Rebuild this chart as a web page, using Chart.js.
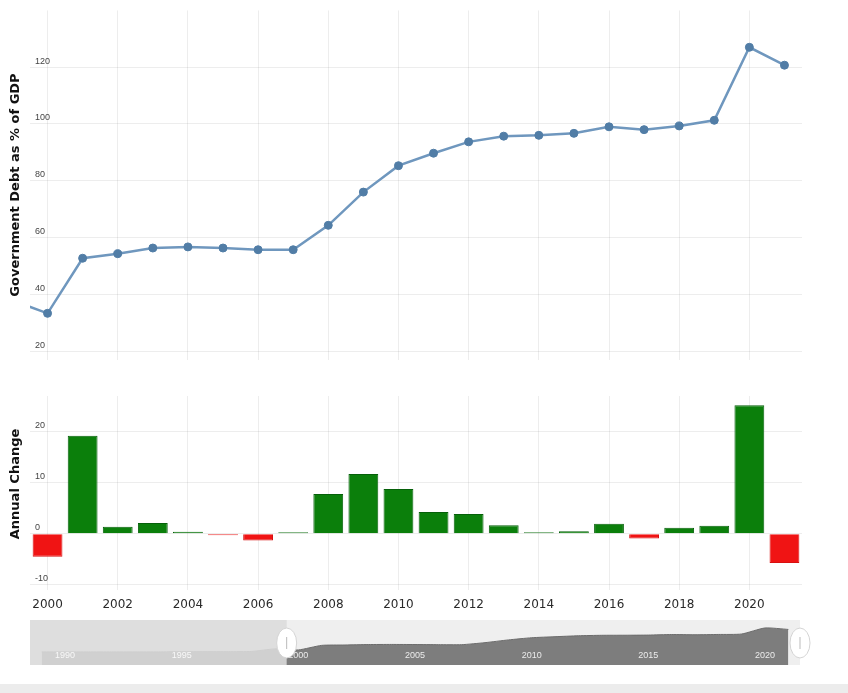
<!DOCTYPE html>
<html><head><meta charset="utf-8">
<script src="https://cdn.jsdelivr.net/npm/chart.js@4.4.1/dist/chart.umd.min.js"></script>
<style>
html,body{margin:0;padding:0;background:#fff;width:848px;height:693px;overflow:hidden;position:relative}
.box{position:absolute}
#foot{position:absolute;left:0;top:684px;width:848px;height:9px;background:#ececec}
</style></head><body>
<div class="box" style="left:0;top:0;width:848px;height:370px"><canvas id="c1"></canvas></div>
<div class="box" style="left:0;top:380px;width:848px;height:240px"><canvas id="c2"></canvas></div>
<div class="box" style="left:0;top:615px;width:848px;height:55px"><canvas id="c3"></canvas></div>
<div id="foot"></div>
<script>
// ---- data ----
const years = [1999,2000,2001,2002,2003,2004,2005,2006,2007,2008,2009,2010,2011,2012,2013,2014,2015,2016,2017,2018,2019,2020,2021];
const debtPct = [37.8,33.3,52.7,54.3,56.3,56.7,56.3,55.7,55.7,64.3,76.0,85.3,89.7,93.7,95.7,96.0,96.7,99.0,98.0,99.3,101.3,127.0,120.7];
const changeYears = [2000,2001,2002,2003,2004,2005,2006,2007,2008,2009,2010,2011,2012,2013,2014,2015,2016,2017,2018,2019,2020,2021];
const annualChange = [-4.5,19.2,1.4,2.1,0.4,-0.3,-1.3,0.3,7.8,11.7,8.8,4.3,3.9,1.7,0.3,0.5,2.0,-0.9,1.2,1.6,25.2,-5.7];
const navYears = [1989,1990,1991,1992,1993,1994,1995,1996,1997,1998];
const navPre = [25,25,25,25,25,25,26,26,26,27];
const xTickYears = [2000,2002,2004,2006,2008,2010,2012,2014,2016,2018,2020];
const debtTicks = [20,40,60,80,100,120];
const changeTicks = [-10,0,10,20];
const navLabels = [1990,1995,2000,2005,2010,2015,2020];

const gridCol = 'rgba(0,0,0,0.07)';
const tickFont = {size:9, family:'Liberation Sans'};
const titleFont = {size:13, weight:'bold', family:'DejaVu Sans'};

new Chart(document.getElementById('c1'), {
  type:'line',
  data:{datasets:[{
    data: years.map((y,i)=>({x:y, y:debtPct[i]})),
    borderColor:'#6f97be', borderWidth:2.5, tension:0,
    pointRadius:4, pointBackgroundColor:'#517da6', pointBorderColor:'#517da6', pointBorderWidth:1
  }]},
  options:{
    animation:false, responsive:true, maintainAspectRatio:false, devicePixelRatio:1,
    layout:{padding:{top:1, right:46, left:0, bottom:0}},
    plugins:{legend:{display:false}, tooltip:{enabled:false}},
    scales:{
      x:{type:'linear', min:1999.5, max:2021.5,
         afterBuildTicks: ax => { ax.ticks = xTickYears.map(v=>({value:v})); },
         ticks:{display:false}, grid:{color:gridCol, drawTicks:false}, border:{display:false}},
      y:{min:17, max:140,
         afterBuildTicks: ax => { ax.ticks = debtTicks.map(v=>({value:v})); },
         afterFit: s => { s.width = 30; },
         ticks:{mirror:true, padding:5, labelOffset:-6, font:tickFont, color:'#444'},
         grid:{color:gridCol, drawTicks:false}, border:{display:false},
         title:{display:true, text:'Government Debt as % of GDP', font:titleFont, color:'#111', padding:{top:8, bottom:0}}}
    }
  }
});

new Chart(document.getElementById('c2'), {
  type:'bar',
  data:{datasets:[{
    data: changeYears.map((y,i)=>({x:y, y:annualChange[i]})),
    backgroundColor: c => (c.raw && c.raw.y < 0) ? '#f01414' : '#0b7f0b',
    borderColor: c => (c.raw && c.raw.y < 0) ? '#d81010' : '#06600a',
    borderWidth:1, barPercentage:0.85, categoryPercentage:1
  }]},
  options:{
    animation:false, responsive:true, maintainAspectRatio:false, devicePixelRatio:1,
    layout:{padding:{top:16, right:46, left:0, bottom:0}},
    plugins:{legend:{display:false}, tooltip:{enabled:false}},
    scales:{
      x:{type:'linear', min:1999.5, max:2021.5, offset:false,
         afterBuildTicks: ax => { ax.ticks = xTickYears.map(v=>({value:v})); },
         afterFit: s => { s.height = 30; },
         ticks:{callback: v => String(v), font:{size:12, family:'DejaVu Sans'}, color:'#2a2a2a', padding:8, maxRotation:0, autoSkip:false},
         grid:{color:gridCol, drawTicks:false, offset:false}, border:{display:false}},
      y:{min:-11, max:27,
         afterBuildTicks: ax => { ax.ticks = changeTicks.map(v=>({value:v})); },
         afterFit: s => { s.width = 30; },
         ticks:{mirror:true, padding:5, labelOffset:-6, font:tickFont, color:'#444'},
         grid:{color:gridCol, drawTicks:false}, border:{display:false},
         title:{display:true, text:'    Annual Change', font:titleFont, color:'#111', padding:{top:8, bottom:0}}}
    }
  }
});

const navPlugin = {
  id:'nav',
  beforeDatasetsDraw(chart){
    const {ctx, chartArea:a} = chart;
    ctx.save(); ctx.fillStyle = '#efefef';
    ctx.fillRect(a.left, a.top, a.right-a.left, a.bottom-a.top); ctx.restore();
  },
  afterDatasetsDraw(chart){
    const {ctx, chartArea:a} = chart;
    const xs = chart.scales.x;
    ctx.save();
    const hx = xs.getPixelForValue(1999.5), rx = xs.getPixelForValue(2021.5);
    ctx.fillStyle = 'rgba(220,220,220,0.88)';
    ctx.fillRect(a.left, a.top, hx-a.left, a.bottom-a.top);
    ctx.fillStyle = 'rgba(255,255,255,0.85)';
    ctx.font = '9px "Liberation Sans"';
    ctx.textAlign = 'center'; ctx.textBaseline = 'middle';
    navLabels.forEach(v => ctx.fillText(String(v), xs.getPixelForValue(v), a.bottom-9));
    [hx, rx].forEach(x => {
      ctx.beginPath();
      ctx.ellipse(x, a.top+23, 10, 15, 0, 0, Math.PI*2);
      ctx.fillStyle = '#ffffff'; ctx.fill();
      ctx.strokeStyle = '#d4d4d4'; ctx.lineWidth = 1; ctx.stroke();
      ctx.beginPath(); ctx.moveTo(x, a.top+17); ctx.lineTo(x, a.top+29);
      ctx.strokeStyle = '#bbbbbb'; ctx.stroke();
    });
    ctx.restore();
  }
};

new Chart(document.getElementById('c3'), {
  type:'line',
  data:{datasets:[{
    data: navYears.map((y,i)=>({x:y, y:navPre[i]})).concat(years.map((y,i)=>({x:y, y:debtPct[i]}))),
    fill:'start', backgroundColor:'#7d7d7d', borderColor:'#6c6c6c', borderWidth:1, pointRadius:0, tension:0.2
  }]},
  options:{
    animation:false, responsive:true, maintainAspectRatio:false, devicePixelRatio:1,
    layout:{padding:{top:5, right:48, left:30, bottom:5}},
    plugins:{legend:{display:false}, tooltip:{enabled:false}},
    scales:{
      x:{type:'linear', min:1988.5, max:2021.5, display:false},
      y:{min:-31, max:161, display:false}
    }
  },
  plugins:[navPlugin]
});
</script>
</body></html>
